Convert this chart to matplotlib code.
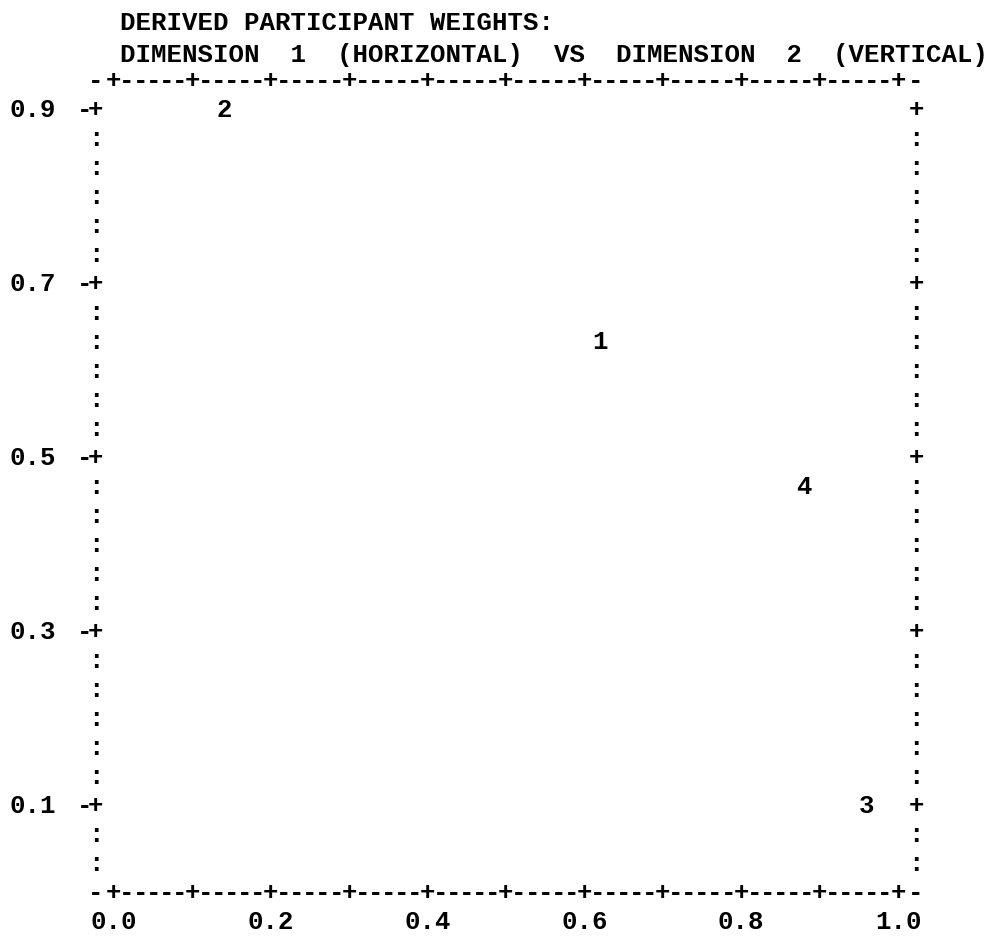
import matplotlib
matplotlib.use("Agg")
import matplotlib.pyplot as plt

# derived participant weights (dimension 1, dimension 2)
point_labels = ["1", "2", "3", "4"]
dim1 = [0.62, 0.14, 0.96, 0.88]
dim2 = [0.633, 0.90, 0.10, 0.467]

x_ticks = [0.0, 0.2, 0.4, 0.6, 0.8, 1.0]
x_tick_labels = ["0.0", "0.2", "0.4", "0.6", "0.8", "1.0"]
y_ticks = [0.9, 0.7, 0.5, 0.3, 0.1]
y_tick_labels = ["0.9", "0.7", "0.5", "0.3", "0.1"]

title_lines = [
    "DERIVED PARTICIPANT WEIGHTS:",
    "DIMENSION  1  (HORIZONTAL)  VS  DIMENSION  2  (VERTICAL)",
]


def main():
    fig = plt.figure(figsize=(10.04, 9.37), dpi=100)
    ax = fig.add_axes([0, 0, 1, 1])
    ax.set_xlim(-0.1454, 1.1352)
    ax.set_ylim(-0.0506, 1.0264)
    ax.axis("off")

    font = dict(family="Liberation Mono", fontweight="bold", fontsize=18.5, color="black")

    def put(x, y, s, ha="center"):
        ax.text(x, y, s, ha=ha, va="center", **font)

    col = 0.1 / 6   # horizontal character step of the frame
    row = 0.2 / 6   # line step
    left, right = -0.023, 1.023
    top = 0.9 + row

    # top and bottom frame lines
    for yb in (top, 0.0):
        put(left, yb, "-")
        for i in range(61):
            put(i * col, yb, "+" if i % 6 == 0 else "-")
        put(right, yb, "-")

    # side frames
    for k in range(27):
        yr = 0.9 - k * row
        if k % 6 == 0:
            put(left, yr, "+")
            put(right, yr, "+")
            put(-0.038, yr, "-")
        else:
            put(left, yr, ":")
            put(right, yr, ":")

    for yt, lab in zip(y_ticks, y_tick_labels):
        put(-0.103, yt, lab)
    for xt, lab in zip(x_ticks, x_tick_labels):
        put(xt, -row, lab)

    for x, y, lab in zip(dim1, dim2, point_labels):
        put(x, y, lab)

    put(0.008, 1.0, title_lines[0], ha="left")
    put(0.008, 0.963, title_lines[1], ha="left")

    fig.savefig("out.png", dpi=100)


if __name__ == "__main__":
    main()
